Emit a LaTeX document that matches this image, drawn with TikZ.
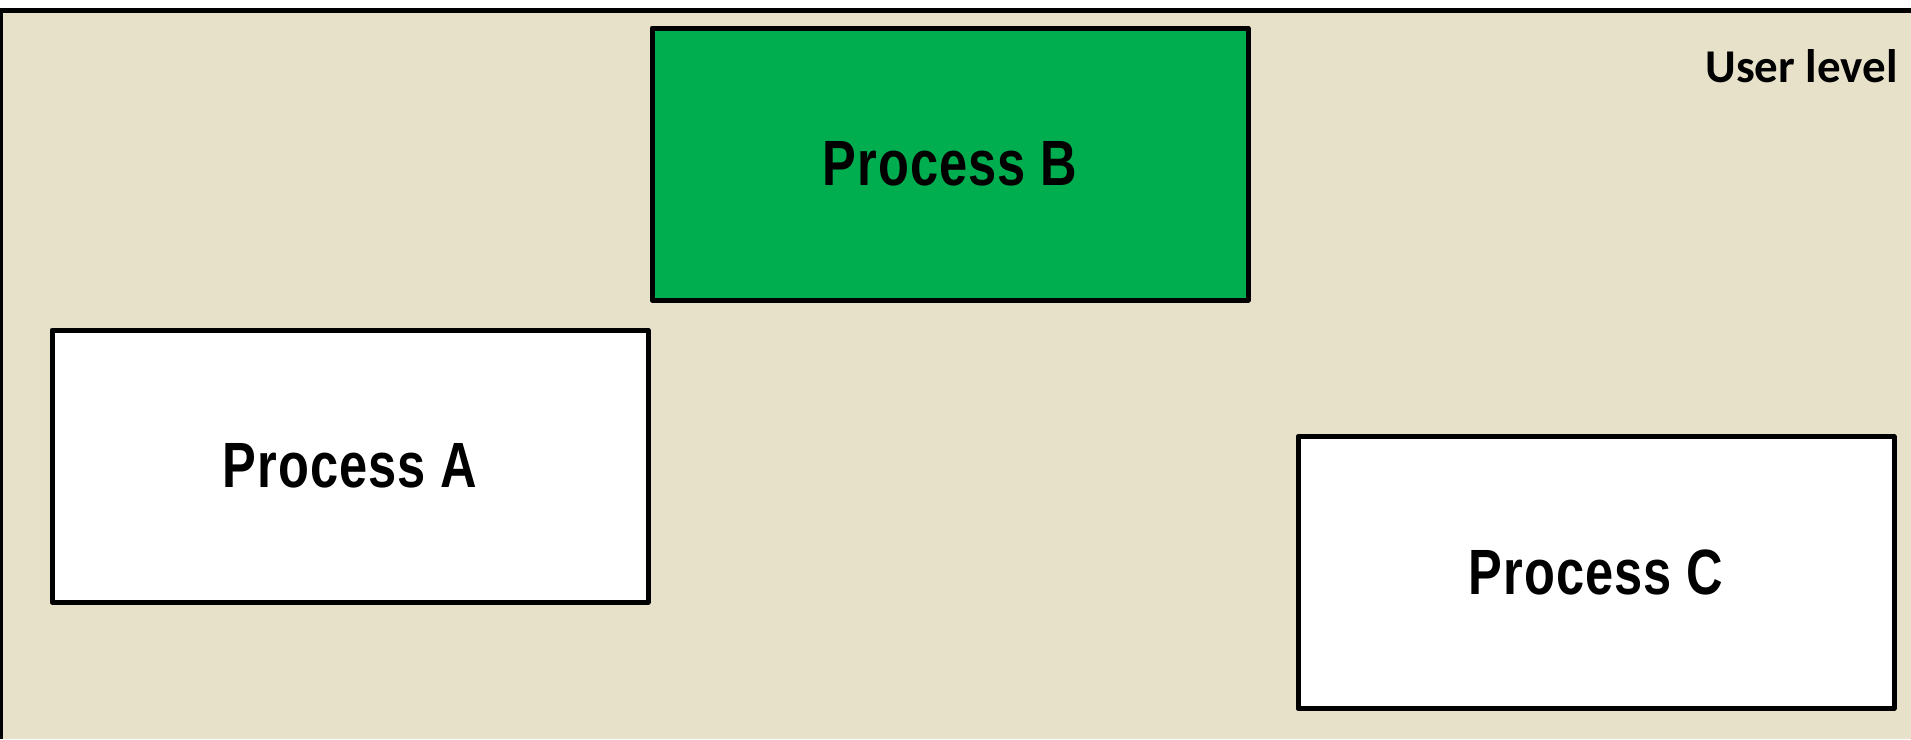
\documentclass[tikz,border=0pt]{standalone}
\usepackage{fontspec}
\setmainfont{Liberation Sans}
\newfontfamily\procfont[FakeStretch=0.79,LetterSpace=1.5]{Liberation Sans}
\newfontfamily\carlito{Carlito}
\definecolor{bgbeige}{RGB}{232,225,202}
\definecolor{procgreen}{RGB}{0,174,80}
\begin{document}
\begin{tikzpicture}[x=1pt,y=-1pt,
  procbox/.style={draw=black,line width=5pt,line join=round,fill=white,
    minimum width=596pt,minimum height=272pt,inner sep=0pt,
    font=\procfont\fontsize{64}{70}\selectfont\bfseries},
  levellabel/.style={font=\carlito\fontsize{47}{54}\selectfont\bfseries,inner sep=0pt,anchor=base east}]
\useasboundingbox (0,0) rectangle (1911,739);
\fill[bgbeige] (0,8) rectangle (1911,739);
\draw[line width=5pt] (0,10.5) -- (1911,10.5);
\draw[line width=3pt] (1.5,8) -- (1.5,739);
\node[procbox,fill=procgreen] (pb) at (950,164) {Process B};
\node[procbox] (pa) at (350,466) {Process A};
\node[procbox] (pc) at (1596,572.5) {Process C};
\node[levellabel] (ul) at (1898,82) {User level};
\end{tikzpicture}
\end{document}
